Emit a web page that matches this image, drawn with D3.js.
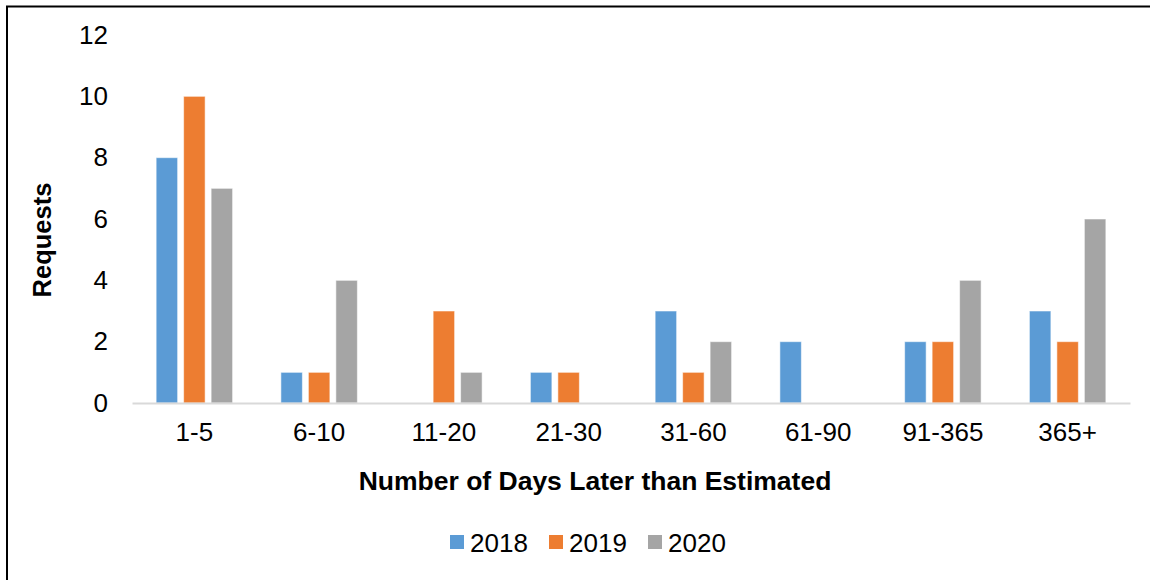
<!DOCTYPE html>
<html>
<head>
<meta charset="utf-8">
<script src="https://cdn.jsdelivr.net/npm/d3@7"></script>
<style>
  html, body { margin: 0; padding: 0; background: #fff; }
  svg { display: block; font-family: "Liberation Sans", Arial, sans-serif; }
</style>
</head>
<body>
<svg id="chart" width="1150" height="580"></svg>
<script>
// Delay buckets (days later than estimated)
const categories = ["1-5", "6-10", "11-20", "21-30", "31-60", "61-90", "91-365", "365+"];
const years = ["2018", "2019", "2020"];
const requests2018 = [8, 1, 0, 1, 3, 2, 2, 3];
const requests2019 = [10, 1, 3, 1, 1, 0, 2, 2];
const requests2020 = [7, 4, 1, 0, 2, 0, 4, 6];
const yTicks = [0, 2, 4, 6, 8, 10, 12];
const colors = ["#5B9BD5", "#ED7D31", "#A5A5A5"];

const seriesValues = [requests2018, requests2019, requests2020];
const rows = categories.map((c, i) => ({
  category: c,
  values: years.map((y, s) => ({ year: y, value: seriesValues[s][i] }))
}));

const svg = d3.select("#chart");

// Outer frame (open on the right and bottom)
svg.append("path")
  .attr("d", "M7,580 L7,6.5 L1150,6.5")
  .attr("fill", "none")
  .attr("stroke", "#000")
  .attr("stroke-width", 2);

const plot = { left: 132, right: 1130, top: 35, bottom: 403 };

const x0 = d3.scaleBand()
  .domain(categories)
  .range([plot.left, plot.right])
  .paddingInner(0.387)
  .paddingOuter(0.387 / 2);

const x1 = d3.scaleBand()
  .domain(years)
  .range([0, x0.bandwidth()])
  .paddingInner(0.218)
  .paddingOuter(0);

const y = d3.scaleLinear()
  .domain([0, 12])
  .range([plot.bottom, plot.top]);

const color = d3.scaleOrdinal().domain(years).range(colors);

// Y axis labels (no axis line, no ticks)
const yAxis = svg.append("g")
  .attr("transform", `translate(${plot.left},0)`)
  .call(d3.axisLeft(y).tickValues(yTicks).tickSize(0).tickPadding(24));
yAxis.select(".domain").remove();
yAxis.selectAll("text")
  .attr("font-size", 26)
  .attr("fill", "#000")
  .style("font-family", "'Liberation Sans', Arial, sans-serif");

// Bars
const groups = svg.append("g").selectAll("g")
  .data(rows)
  .join("g")
  .attr("transform", d => `translate(${x0(d.category)},0)`);

groups.selectAll("rect")
  .data(d => d.values.filter(v => v.value > 0))
  .join("rect")
  .attr("x", d => x1(d.year))
  .attr("y", d => y(d.value))
  .attr("width", x1.bandwidth())
  .attr("height", d => y(0) - y(d.value))
  .attr("fill", d => color(d.year))
  .attr("stroke", "#fff")
  .attr("stroke-opacity", 0.55)
  .attr("stroke-width", 1);

// X axis
const xAxis = svg.append("g")
  .attr("transform", `translate(0,${plot.bottom})`)
  .call(d3.axisBottom(x0).tickSize(0).tickPadding(20).tickSizeOuter(0));
xAxis.select(".domain")
  .attr("stroke", "#D9D9D9")
  .attr("stroke-width", 2);
xAxis.selectAll("text")
  .attr("font-size", 26)
  .attr("fill", "#000")
  .style("font-family", "'Liberation Sans', Arial, sans-serif");

// Axis titles
svg.append("text")
  .attr("x", 595)
  .attr("y", 490)
  .attr("text-anchor", "middle")
  .attr("font-size", 26.5)
  .attr("font-weight", "bold")
  .text("Number of Days Later than Estimated");

svg.append("text")
  .attr("transform", `translate(51,${(plot.top + plot.bottom) / 2 + 21}) rotate(-90)`)
  .attr("text-anchor", "middle")
  .attr("font-size", 25.5)
  .attr("font-weight", "bold")
  .text("Requests");

// Legend
const legendX = [450, 549, 648];
const legend = svg.append("g").selectAll("g")
  .data(years)
  .join("g")
  .attr("transform", (d, i) => `translate(${legendX[i]},535)`);
legend.append("rect")
  .attr("width", 14)
  .attr("height", 14)
  .attr("fill", d => color(d));
legend.append("text")
  .attr("x", 20)
  .attr("y", 17)
  .attr("font-size", 26)
  .text(d => d);
</script>
</body>
</html>
